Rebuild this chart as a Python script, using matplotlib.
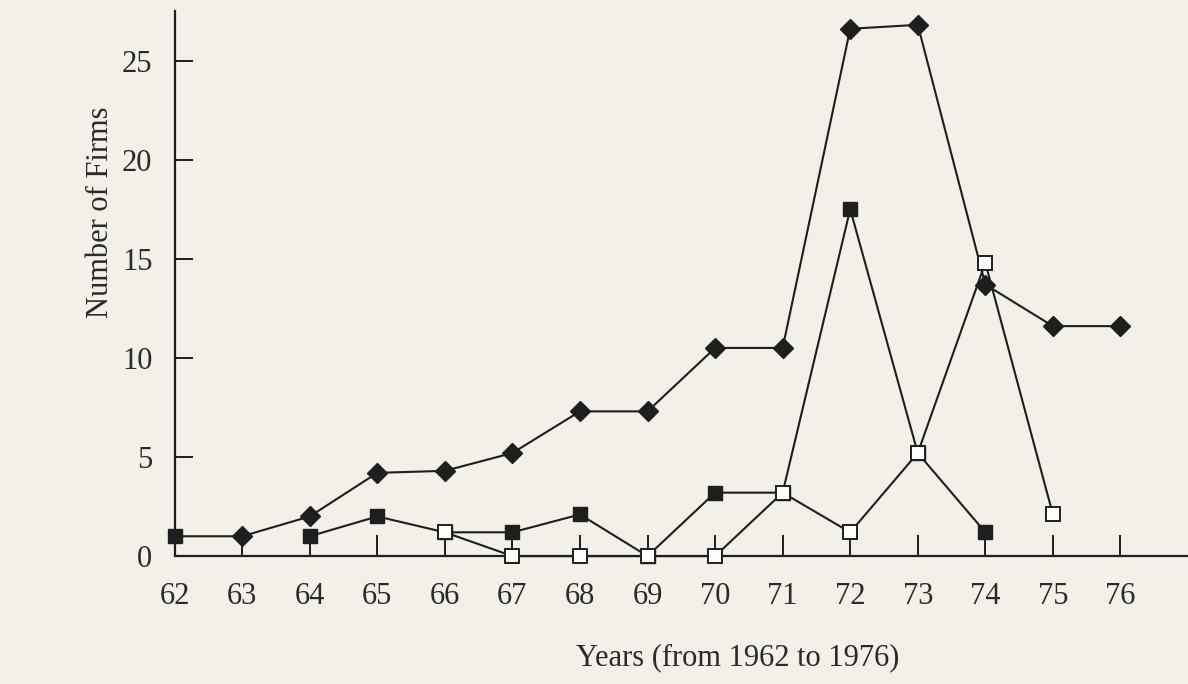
import numpy as np
import matplotlib
matplotlib.use("Agg")
import matplotlib.pyplot as plt

plt.rcParams['font.family'] = ['Liberation Serif', 'DejaVu Serif']

years = [62, 63, 64, 65, 66, 67, 68, 69, 70, 71, 72, 73, 74, 75, 76]

# filled diamonds
total = [1, 1, 2, 4.2, 4.3, 5.2, 7.3, 7.3, 10.5, 10.5, 26.6, 26.8, 13.7, 11.6, 11.6]
# filled squares (nan = no point)
filled = [1, np.nan, 1, 2, 1.2, 1.2, 2.1, 0, 3.2, 3.2, 17.5, 5.2, 1.2, np.nan, np.nan]
# open squares
opened = [np.nan, np.nan, np.nan, np.nan, 1.2, 0, 0, 0, 0, 3.2, 1.2, 5.2, 14.8, 2.1, np.nan]

xticks = list(range(62, 77))
yticks = [0, 5, 10, 15, 20, 25]

ink = '#1e1e1e'
paper = '#f3f0ea'

fig = plt.figure(figsize=(11.88, 6.84), dpi=100, facecolor=paper)
ax = fig.add_axes([0.147, 0.187, 0.853, 0.797])
ax.set_facecolor(paper)

# first diamond is hidden under the square at 62 in the original
ax.plot(years, total, color=ink, lw=1.5, marker='D', markersize=10,
        markerfacecolor=ink, markeredgecolor=ink, markevery=list(range(1, len(years))),
        clip_on=False, zorder=3)
ax.plot(years, filled, color=ink, lw=1.5, marker='s', markersize=10,
        markerfacecolor=ink, markeredgecolor=ink, clip_on=False, zorder=4)
ax.plot(years, opened, color=ink, lw=1.5, marker='s', markersize=10,
        markerfacecolor='white', markeredgecolor=ink, markeredgewidth=1.4,
        clip_on=False, zorder=5)

ax.set_xlim(62, 77)
ax.set_ylim(0, 27.5)
ax.set_xticks(xticks)
ax.set_yticks(yticks)

for s in ['top', 'right']:
    ax.spines[s].set_visible(False)
for s in ['left', 'bottom']:
    ax.spines[s].set_linewidth(1.6)
    ax.spines[s].set_color(ink)

ax.tick_params(axis='x', direction='in', length=15, width=1.4, color=ink,
               labelsize=22, pad=19, labelcolor='#2a2a2a')
ax.tick_params(axis='y', direction='in', length=13, width=1.4, color=ink,
               labelsize=22, pad=16, labelcolor='#2a2a2a')

fig.text(738 / 1188, 1 - 658 / 684, "Years (from 1962 to 1976)",
         ha='center', va='center', fontsize=22, color='#2a2a2a')
fig.text(100 / 1188, 1 - 212 / 684, "Number of Firms", rotation=90,
         ha='center', va='center', fontsize=22, color='#2a2a2a')

fig.savefig("out.png", dpi=100, facecolor=paper)
